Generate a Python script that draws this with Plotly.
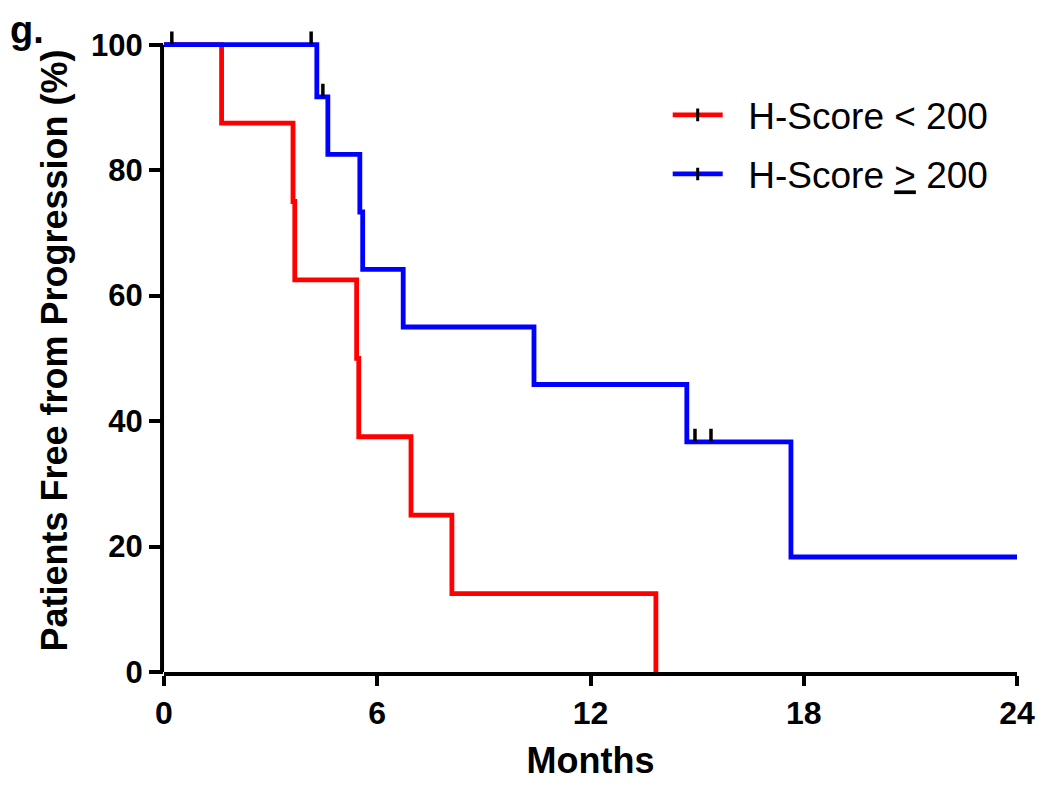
import plotly.graph_objects as go

# ---- data ----
red_times = [0, 1.62, 3.63, 3.68, 5.42, 5.48, 6.95, 8.10, 13.84]
red_surv = [100, 87.5, 75, 62.5, 50, 37.5, 25, 12.5, 0]

blue_times = [0, 4.30, 4.61, 5.51, 5.59, 6.73, 10.41, 14.71, 17.64, 24]
blue_surv = [100, 91.67, 82.5, 73.33, 64.17, 55, 45.83, 36.67, 18.33, 18.33]

blue_censor_t = [0.22, 4.14, 4.47, 14.94, 15.39]
blue_censor_s = [100, 100, 91.67, 36.67, 36.67]

x_ticks = [0, 6, 12, 18, 24]
y_ticks = [0, 20, 40, 60, 80, 100]

labels = ["&nbsp;&nbsp;H-Score &lt; 200", "&nbsp;&nbsp;H-Score <u>&gt;</u> 200"]

RED = "#FF0000"
BLUE = "#0000FF"
FONT = "Liberation Sans, Arial, sans-serif"
TICK_OFF = 1.1  # centre of censor tick above the curve, in % units
Y_TOP = 102.5   # headroom so the censor ticks at 100 % are drawn

fig = go.Figure()

fig.add_trace(go.Scatter(x=red_times, y=red_surv, mode="lines", line_shape="hv",
                         line=dict(color=RED, width=4.8), showlegend=False))
fig.add_trace(go.Scatter(x=blue_times, y=blue_surv, mode="lines", line_shape="hv",
                         line=dict(color=BLUE, width=4.8), showlegend=False))

# censor ticks (short vertical marks sitting above the curve)
fig.add_trace(go.Scatter(x=blue_censor_t, y=[s + TICK_OFF for s in blue_censor_s],
                         mode="markers", cliponaxis=False, showlegend=False,
                         marker=dict(symbol="line-ns", size=9, color="black",
                                     line=dict(color="black", width=3.5))))

# legend entries
for name, col, grp in [(labels[0], RED, "a"), (labels[1], BLUE, "b")]:
    fig.add_trace(go.Scatter(x=[None], y=[None], mode="lines+markers", name=name,
                             legendgroup=grp,
                             line=dict(color=col, width=4.8),
                             marker=dict(symbol="line-ns", size=9, color="black",
                                         line=dict(color="black", width=3))))

fig.update_layout(
    width=1042, height=783,
    paper_bgcolor="white", plot_bgcolor="white",
    margin=dict(l=156, r=33, t=21, b=119),
    font=dict(family=FONT, color="black"),
    legend=dict(x=0.5905, y=0.914, xanchor="left", yanchor="top",
                font=dict(size=37, family=FONT, color="black"),
                itemwidth=50, traceorder="grouped", tracegroupgap=8,
                bgcolor="rgba(0,0,0,0)"),
    annotations=[dict(text="<b>g.</b>", xref="paper", yref="paper", x=-0.183, y=1.034,
                      xanchor="left", yanchor="top", showarrow=False,
                      font=dict(size=38, family=FONT, color="black"))],
    # y-axis line running from 0 to 100 only
    shapes=[dict(type="line", xref="paper", yref="y", x0=-0.0023, x1=-0.0023,
                 y0=y_ticks[0], y1=y_ticks[-1], line=dict(color="black", width=4))],
)

fig.update_xaxes(range=[0, 24], tickvals=x_ticks, ticktext=[f"<b>{v}</b>" for v in x_ticks],
                 automargin=False,
                 showgrid=False, zeroline=False, showline=True, linecolor="black", linewidth=4,
                 ticks="outside", ticklen=10, tickwidth=4, tickcolor="black",
                 tickfont=dict(size=32, family=FONT, color="black"),
                 title=dict(text="<b>Months</b>", font=dict(size=36, family=FONT, color="black"),
                            standoff=18))
fig.update_yaxes(range=[0, Y_TOP], tickvals=y_ticks, ticktext=[f"<b>{v}</b>" for v in y_ticks],
                 automargin=False,
                 showgrid=False, zeroline=False, showline=False,
                 ticks="outside", ticklen=14, tickwidth=4, tickcolor="black",
                 tickfont=dict(size=31, family=FONT, color="black"),
                 title=dict(text="<b>Patients Free from Progression (%)</b>",
                            font=dict(size=36, family=FONT, color="black"), standoff=12))

fig.write_html("out.html")
